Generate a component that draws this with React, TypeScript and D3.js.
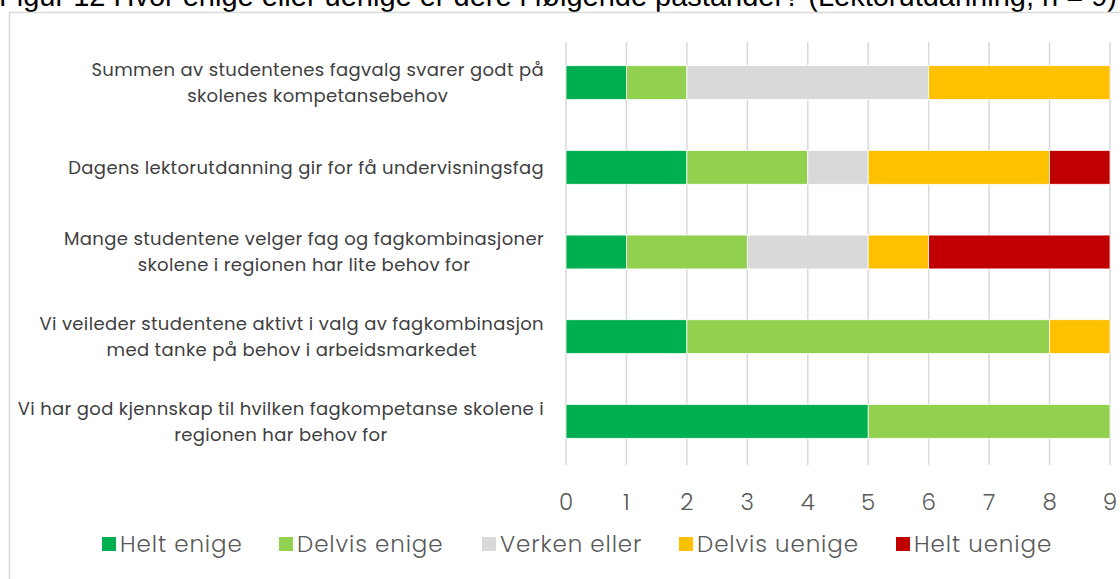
import { useEffect, useRef } from 'react';
import * as d3 from 'd3';

const statements: string[][] = [
  ['Summen av studentenes fagvalg svarer godt på', 'skolenes kompetansebehov'],
  ['Dagens lektorutdanning gir for få undervisningsfag'],
  ['Mange studentene velger fag og fagkombinasjoner', 'skolene i regionen har lite behov for'],
  ['Vi veileder studentene aktivt i valg av fagkombinasjon', 'med tanke på behov i arbeidsmarkedet'],
  ['Vi har god kjennskap til hvilken fagkompetanse skolene i', 'regionen har behov for'],
];

const seriesNames = ['Helt enige', 'Delvis enige', 'Verken eller', 'Delvis uenige', 'Helt uenige'];
const seriesColors = ['#00B050', '#92D050', '#D9D9D9', '#FFC000', '#C00000'];

const heltEnige = [1, 2, 1, 2, 5];
const delvisEnige = [1, 2, 2, 6, 4];
const verkenEller = [4, 1, 2, 0, 0];
const delvisUenige = [3, 3, 1, 1, 0];
const heltUenige = [0, 1, 3, 0, 0];

const xTicks = [0, 1, 2, 3, 4, 5, 6, 7, 8, 9];

const title = 'Figur 12 Hvor enige eller uenige er dere i følgende påstander? (Lektorutdanning, n = 9)';

export default function App() {
  const svgRef = useRef<SVGSVGElement>(null);

  useEffect(() => {
    if (!svgRef.current) {
      return;
    }
    const width = 1120;
    const height = 579;
    const margin = { left: 566, right: 10, top: 42, bottom: 117 };
    const font = "Poppins, 'Open Sans', sans-serif";

    const svg = d3.select(svgRef.current);
    svg.selectAll('*').remove();
    svg.attr('width', width).attr('height', height);

    svg.append('rect').attr('width', width).attr('height', height).attr('fill', '#fff');

    // title, cut off at the top like the source crop
    svg
      .append('text')
      .attr('x', -1)
      .attr('y', 6)
      .attr('font-family', 'Liberation Sans, Arial, sans-serif')
      .attr('font-size', 29)
      .attr('fill', '#000')
      .text(title);

    // chart frame
    svg
      .append('path')
      .attr('d', `M${width + 5},12.5 H9.5 V${height + 5}`)
      .attr('fill', 'none')
      .attr('stroke', '#D9D9D9')
      .attr('stroke-width', 1.5);

    const rows = statements.map((lines, i) => ({
      lines,
      values: [heltEnige[i], delvisEnige[i], verkenEller[i], delvisUenige[i], heltUenige[i]],
    }));

    const x = d3
      .scaleLinear()
      .domain([0, 9])
      .range([margin.left, width - margin.right]);

    const y = d3
      .scaleBand<number>()
      .domain(rows.map((_, i) => i))
      .range([margin.top, height - margin.bottom])
      .paddingInner(0.6)
      .paddingOuter(0.28);

    // gridlines
    svg
      .append('g')
      .selectAll('line')
      .data(xTicks)
      .enter()
      .append('line')
      .attr('x1', (d) => x(d))
      .attr('x2', (d) => x(d))
      .attr('y1', margin.top)
      .attr('y2', height - margin.bottom + 3)
      .attr('stroke', '#D9D9D9')
      .attr('stroke-width', 1.5);

    // stacked bars
    const stacked = rows.map((r) => {
      let acc = 0;
      return r.values.map((v, k) => {
        const s = { x0: acc, x1: acc + v, k };
        acc += v;
        return s;
      });
    });

    const barG = svg.append('g');
    stacked.forEach((segs, i) => {
      barG
        .append('g')
        .selectAll('rect')
        .data(segs.filter((s) => s.x1 > s.x0))
        .enter()
        .append('rect')
        .attr('x', (s) => x(s.x0))
        .attr('width', (s) => x(s.x1) - x(s.x0))
        .attr('y', y(i) ?? 0)
        .attr('height', y.bandwidth())
        .attr('fill', (s) => seriesColors[s.k])
        .attr('stroke', '#fff')
        .attr('stroke-width', 0.75);
    });

    // category labels: block right-aligned, lines centred inside it
    const labelRight = 544;
    const lineGap = 26;
    rows.forEach((r, i) => {
      const cy = (y(i) ?? 0) + y.bandwidth() / 2;
      const g = svg.append('g');
      const texts = g
        .selectAll('text')
        .data(r.lines)
        .enter()
        .append('text')
        .attr('y', (_, j) => cy + (j - (r.lines.length - 1) / 2) * lineGap)
        .attr('dy', '0.35em')
        .attr('text-anchor', 'middle')
        .attr('font-family', font)
        .attr('font-size', 18)
        .attr('letter-spacing', 0.35)
        .attr('fill', '#404040')
        .text((d) => d);
      let maxW = 0;
      texts.each(function () {
        maxW = Math.max(maxW, (this as SVGTextElement).getComputedTextLength());
      });
      texts.attr('x', labelRight - maxW / 2);
    });

    // tick labels
    svg
      .append('g')
      .selectAll('text')
      .data(xTicks)
      .enter()
      .append('text')
      .attr('x', (d) => x(d))
      .attr('y', 502)
      .attr('dy', '0.35em')
      .attr('text-anchor', 'middle')
      .attr('font-family', font)
      .attr('font-size', 23)
      .attr('font-weight', 300)
      .attr('fill', '#595959')
      .text((d) => String(d));

    // legend
    const legendX = [102, 279, 482, 679, 896];
    const legend = svg
      .append('g')
      .selectAll('g')
      .data(seriesNames)
      .enter()
      .append('g')
      .attr('transform', (_, k) => `translate(${legendX[k]},544)`);
    legend
      .append('rect')
      .attr('x', 0)
      .attr('y', -7)
      .attr('width', 14)
      .attr('height', 14)
      .attr('fill', (_, k) => seriesColors[k]);
    legend
      .append('text')
      .attr('x', 18)
      .attr('dy', '0.35em')
      .attr('font-family', font)
      .attr('font-size', 23)
      .attr('letter-spacing', 0.9)
      .attr('font-weight', 300)
      .attr('fill', '#595959')
      .text((d) => d);
  }, []);

  return (
    <div style={{ position: 'absolute', left: 0, top: 0 }}>
      <svg ref={svgRef} style={{ display: 'block' }} />
    </div>
  );
}
